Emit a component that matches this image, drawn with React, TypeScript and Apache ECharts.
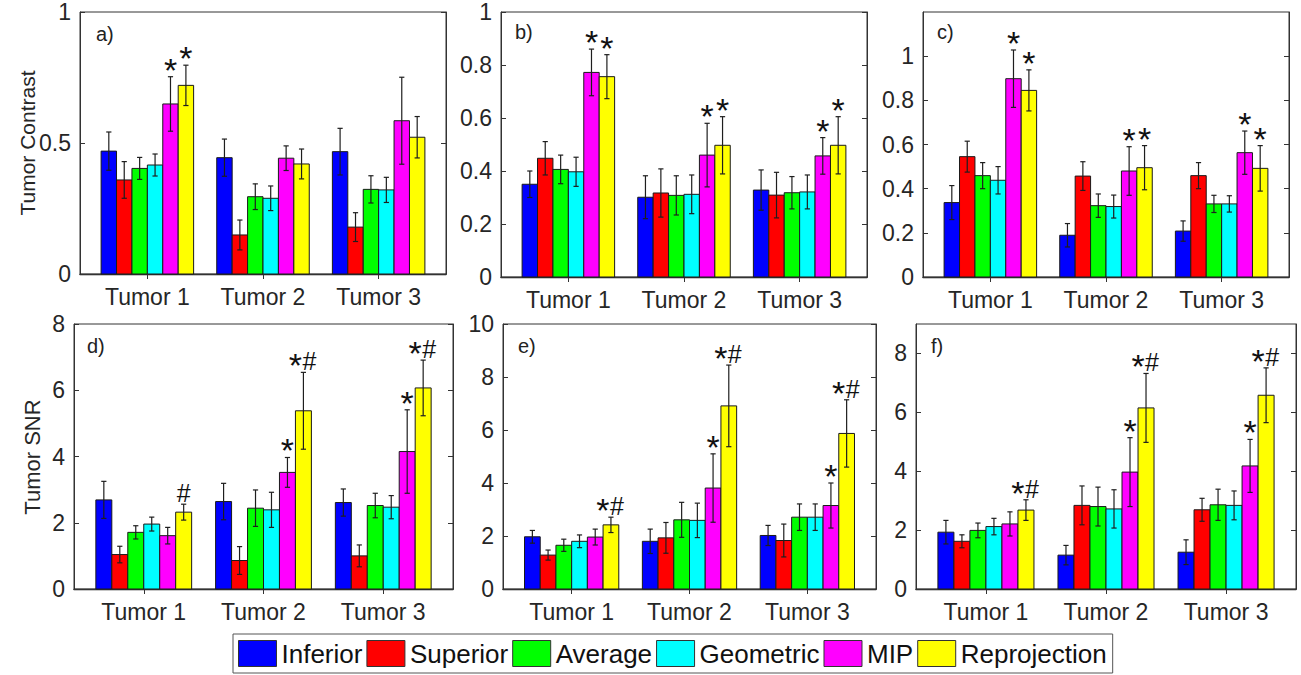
import React, { useEffect, useRef } from 'react';
import * as echarts from 'echarts';

const FONT = '"Liberation Sans", Arial, Helvetica, sans-serif';

const methods = ['Inferior', 'Superior', 'Average', 'Geometric', 'MIP', 'Reprojection'];
const methodColors = ['#0000ff', '#ff0000', '#00ff00', '#00ffff', '#ff00ff', '#ffff00'];
const tumors = ['Tumor 1', 'Tumor 2', 'Tumor 3'];

// rows = tumors, columns = methods
const contrastAMean = [
  [0.469, 0.359, 0.403, 0.416, 0.649, 0.72],
  [0.444, 0.149, 0.295, 0.289, 0.442, 0.42],
  [0.467, 0.179, 0.323, 0.321, 0.585, 0.522],
];
const contrastAErr = [
  [0.073, 0.07, 0.042, 0.042, 0.104, 0.077],
  [0.071, 0.057, 0.049, 0.047, 0.047, 0.057],
  [0.089, 0.055, 0.052, 0.048, 0.166, 0.079],
];
const contrastAMarks = [
  ['', '', '', '', '*', '*'],
  ['', '', '', '', '', ''],
  ['', '', '', '', '', ''],
];

const contrastBMean = [
  [0.35, 0.448, 0.406, 0.397, 0.772, 0.756],
  [0.301, 0.317, 0.308, 0.312, 0.46, 0.497],
  [0.328, 0.309, 0.318, 0.321, 0.457, 0.497],
];
const contrastBErr = [
  [0.05, 0.063, 0.054, 0.055, 0.088, 0.083],
  [0.081, 0.091, 0.074, 0.073, 0.12, 0.108],
  [0.076, 0.086, 0.061, 0.064, 0.069, 0.108],
];
const contrastBMarks = [
  ['', '', '', '', '*', '*'],
  ['', '', '', '', '*', '*'],
  ['', '', '', '', '*', '*'],
];

const contrastCMean = [
  [0.337, 0.545, 0.459, 0.438, 0.898, 0.845],
  [0.189, 0.457, 0.323, 0.319, 0.48, 0.495],
  [0.208, 0.459, 0.331, 0.331, 0.563, 0.492],
];
const contrastCErr = [
  [0.077, 0.07, 0.059, 0.062, 0.13, 0.093],
  [0.053, 0.065, 0.053, 0.052, 0.11, 0.1],
  [0.046, 0.059, 0.039, 0.037, 0.098, 0.103],
];
const contrastCMarks = [
  ['', '', '', '', '*', '*'],
  ['', '', '', '', '*', '*'],
  ['', '', '', '', '*', '*'],
];

const snrDMean = [
  [2.69, 1.04, 1.71, 1.96, 1.61, 2.32],
  [2.64, 0.86, 2.44, 2.39, 3.52, 5.38],
  [2.61, 1.0, 2.52, 2.47, 4.15, 6.07],
];
const snrDErr = [
  [0.56, 0.25, 0.2, 0.21, 0.25, 0.24],
  [0.55, 0.42, 0.55, 0.53, 0.45, 1.16],
  [0.41, 0.33, 0.37, 0.35, 1.26, 0.84],
];
const snrDMarks = [
  ['', '', '', '', '', '#'],
  ['', '', '', '', '*', '*#'],
  ['', '', '', '', '*', '*#'],
];

const snrEMean = [
  [1.97, 1.28, 1.65, 1.8, 1.96, 2.42],
  [1.8, 1.93, 2.61, 2.59, 3.81, 6.91],
  [2.02, 1.83, 2.71, 2.71, 3.15, 5.87],
];
const snrEErr = [
  [0.24, 0.19, 0.23, 0.24, 0.3, 0.29],
  [0.46, 0.58, 0.66, 0.65, 1.29, 1.54],
  [0.38, 0.62, 0.5, 0.5, 0.85, 1.27],
];
const snrEMarks = [
  ['', '', '', '', '', '*#'],
  ['', '', '', '', '*', '*#'],
  ['', '', '', '', '*', '*#'],
];

const snrFMean = [
  [1.93, 1.62, 1.99, 2.12, 2.21, 2.68],
  [1.15, 2.84, 2.8, 2.72, 3.97, 6.15],
  [1.25, 2.69, 2.86, 2.84, 4.18, 6.58],
];
const snrFErr = [
  [0.4, 0.22, 0.25, 0.28, 0.41, 0.35],
  [0.33, 0.66, 0.66, 0.65, 1.17, 1.17],
  [0.42, 0.39, 0.53, 0.49, 0.9, 0.93],
];
const snrFMarks = [
  ['', '', '', '', '', '*#'],
  ['', '', '', '', '*', '*#'],
  ['', '', '', '', '*', '*#'],
];

const ticksA = [0, 0.5, 1];
const ticksBC = [0, 0.2, 0.4, 0.6, 0.8, 1];
const ticksDF = [0, 2, 4, 6, 8];
const ticksE = [0, 2, 4, 6, 8, 10];

const panelLabels = ['a)', 'b)', 'c)', 'd)', 'e)', 'f)'];
const yTitles = ['Tumor Contrast', 'Tumor SNR'];

const panelData = [
  { mean: contrastAMean, err: contrastAErr, marks: contrastAMarks, ticks: ticksA, yMax: 1 },
  { mean: contrastBMean, err: contrastBErr, marks: contrastBMarks, ticks: ticksBC, yMax: 1 },
  { mean: contrastCMean, err: contrastCErr, marks: contrastCMarks, ticks: ticksBC, yMax: 1.2 },
  { mean: snrDMean, err: snrDErr, marks: snrDMarks, ticks: ticksDF, yMax: 8 },
  { mean: snrEMean, err: snrEErr, marks: snrEMarks, ticks: ticksE, yMax: 10 },
  { mean: snrFMean, err: snrFErr, marks: snrFMarks, ticks: ticksDF, yMax: 9 },
];

// layout (pixels)
const panelLayout = [
  { left: 80, top: 12, width: 366, height: 262, lx: 96, ly: 35 },
  { left: 501, top: 12, width: 366, height: 265, lx: 515, ly: 33 },
  { left: 923, top: 12, width: 366, height: 265, lx: 937, ly: 33 },
  { left: 74, top: 324, width: 379, height: 265, lx: 87, ly: 347 },
  { left: 503, top: 324, width: 373, height: 265, lx: 518, ly: 347 },
  { left: 916, top: 324, width: 380, height: 265, lx: 931, ly: 347 },
];

const X_MIN = 0.4175;
const X_MAX = 3.5825;
const GROUP_W = 0.8;
const BAR_W = GROUP_W / methods.length;

function buildOption() {
  const grid: any[] = [];
  const xAxis: any[] = [];
  const yAxis: any[] = [];
  const series: any[] = [];
  const frameColor = '#333';

  panelData.forEach((pd, p) => {
    const L = panelLayout[p];
    grid.push({
      left: L.left,
      top: L.top,
      width: L.width,
      height: L.height,
      show: true,
      borderColor: frameColor,
      borderWidth: 1,
      backgroundColor: '#fff',
      containLabel: false,
    });
    xAxis.push({
      type: 'value',
      gridIndex: p,
      min: X_MIN,
      max: X_MAX,
      position: 'bottom',
      axisLine: { show: true, lineStyle: { color: '#1a1a1a', width: 1.3 } },
      axisTick: { show: true, inside: true, length: 5, customValues: [1, 2, 3], lineStyle: { color: frameColor } },
      axisLabel: {
        show: true,
        customValues: [1, 2, 3],
        formatter: (v: number) => tumors[Math.round(v) - 1] || '',
        fontSize: 23,
        color: '#262626',
        fontFamily: FONT,
        margin: 11,
      },
      splitLine: { show: false },
    });
    xAxis.push({
      type: 'value',
      gridIndex: p,
      min: X_MIN,
      max: X_MAX,
      position: 'top',
      axisLine: { show: true, lineStyle: { color: frameColor } },
      axisTick: { show: true, inside: true, length: 5, customValues: [1, 2, 3], lineStyle: { color: frameColor } },
      axisLabel: { show: false },
      splitLine: { show: false },
    });
    yAxis.push({
      type: 'value',
      gridIndex: p,
      min: 0,
      max: pd.yMax,
      position: 'left',
      axisLine: { show: true, lineStyle: { color: frameColor } },
      axisTick: { show: true, inside: true, length: 5, customValues: pd.ticks, lineStyle: { color: frameColor } },
      axisLabel: {
        show: true,
        customValues: pd.ticks,
        fontSize: 23,
        color: '#262626',
        fontFamily: FONT,
        margin: 9,
      },
      splitLine: { show: false },
    });
    yAxis.push({
      type: 'value',
      gridIndex: p,
      min: 0,
      max: pd.yMax,
      position: 'right',
      axisLine: { show: true, lineStyle: { color: frameColor } },
      axisTick: { show: true, inside: true, length: 5, customValues: pd.ticks, lineStyle: { color: frameColor } },
      axisLabel: { show: false },
      splitLine: { show: false },
    });

    methods.forEach((name, m) => {
      const data = tumors.map((_, g) => [g + 1, pd.mean[g][m], pd.err[g][m]]);
      series.push({
        type: 'custom',
        name,
        xAxisIndex: p * 2,
        yAxisIndex: p * 2,
        itemStyle: { color: methodColors[m] },
        clip: false,
        data,
        renderItem: (params: any, api: any) => {
          const g = api.value(0);
          const v = api.value(1);
          const e = api.value(2);
          const leftX = g - GROUP_W / 2 + m * BAR_W;
          const tl = api.coord([leftX, v]);
          const br = api.coord([leftX + BAR_W, 0]);
          const cx = (tl[0] + br[0]) / 2;
          const yTop = api.coord([g, v + e])[1];
          const yBot = api.coord([g, v - e])[1];
          const cap = 2.6;
          const children: any[] = [
            {
              type: 'rect',
              shape: { x: tl[0], y: tl[1], width: br[0] - tl[0], height: br[1] - tl[1] },
              style: { fill: methodColors[m], stroke: '#1a1a1a', lineWidth: 1 },
            },
            {
              type: 'line',
              shape: { x1: cx, y1: yTop, x2: cx, y2: yBot },
              style: { stroke: '#1e1e1e', lineWidth: 1.2 },
            },
            {
              type: 'line',
              shape: { x1: cx - cap, y1: yTop, x2: cx + cap, y2: yTop },
              style: { stroke: '#1e1e1e', lineWidth: 1.2 },
            },
            {
              type: 'line',
              shape: { x1: cx - cap, y1: yBot, x2: cx + cap, y2: yBot },
              style: { stroke: '#1e1e1e', lineWidth: 1.2 },
            },
          ];
          const mark = pd.marks[params.dataIndex][m];
          if (mark) {
            const chars = mark.split('');
            chars.forEach((ch: string, k: number) => {
              let dx = 0;
              if (chars.length === 2) dx = k === 0 ? -8 : 6;
              if (ch === '*') {
                children.push({
                  type: 'text',
                  x: cx + dx,
                  y: yTop - 7,
                  style: {
                    text: '*',
                    fontSize: 34,
                    fontFamily: FONT,
                    fill: '#111',
                    align: 'center',
                    verticalAlign: 'middle',
                  },
                });
              } else {
                children.push({
                  type: 'text',
                  x: cx + dx,
                  y: yTop - 11,
                  style: {
                    text: ch,
                    fontSize: 25,
                    fontFamily: FONT,
                    fill: '#111',
                    align: 'center',
                    verticalAlign: 'middle',
                  },
                });
              }
            });
          }
          return { type: 'group', children };
        },
      });
    });
  });

  const graphic: any[] = [];
  panelLayout.forEach((L, p) => {
    graphic.push({
      type: 'text',
      left: L.lx,
      top: L.ly - 11,
      style: { text: panelLabels[p], fontSize: 20, fontFamily: FONT, fill: '#222' },
    });
  });
  graphic.push({
    type: 'text',
    x: 27,
    y: 143,
    rotation: Math.PI / 2,
    style: {
      text: yTitles[0],
      fontSize: 21,
      fontFamily: FONT,
      fill: '#262626',
      align: 'center',
      verticalAlign: 'middle',
    },
  });
  graphic.push({
    type: 'text',
    x: 32,
    y: 457,
    rotation: Math.PI / 2,
    style: {
      text: yTitles[1],
      fontSize: 22,
      fontFamily: FONT,
      fill: '#262626',
      align: 'center',
      verticalAlign: 'middle',
    },
  });

  return {
    animation: false,
    backgroundColor: '#fff',
    grid,
    xAxis,
    yAxis,
    series,
    graphic,
    legend: {
      left: 233,
      top: 634,
      orient: 'horizontal',
      icon: 'rect',
      itemWidth: 38,
      itemHeight: 26,
      itemGap: 4,
      padding: [6, 6, 6, 5],
      borderColor: '#555',
      borderWidth: 1,
      backgroundColor: '#fff',
      selectedMode: false,
      textStyle: { fontSize: 26, color: '#111', fontFamily: FONT },
      data: methods.map((n, i) => ({
        name: n,
        itemStyle: { color: methodColors[i], borderColor: '#333', borderWidth: 1 },
      })),
    },
  };
}

export default function App() {
  const ref = useRef<HTMLDivElement>(null);
  useEffect(() => {
    document.body.style.margin = '0';
    document.body.style.overflow = 'hidden';
    if (!ref.current) return;
    const chart = echarts.init(ref.current, null, { renderer: 'svg' });
    chart.setOption(buildOption() as any);
    return () => {
      chart.dispose();
    };
  }, []);
  return <div ref={ref} style={{ width: 1301, height: 675 }} />;
}
